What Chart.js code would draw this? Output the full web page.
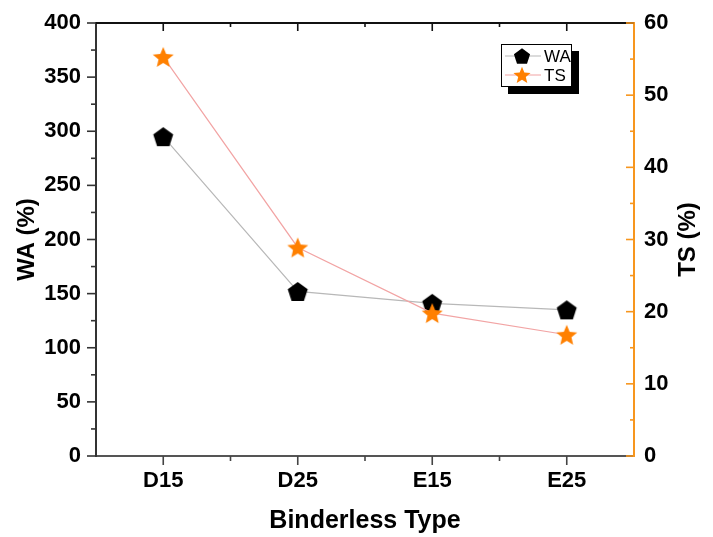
<!DOCTYPE html>
<html>
<head>
<meta charset="utf-8">
<script src="https://cdn.jsdelivr.net/npm/chart.js@4"></script>
<style>
html,body{margin:0;padding:0;background:#fff;}
#c{display:block;}
</style>
</head>
<body>
<canvas id="c" width="713" height="537"></canvas>
<script>
// ---- data ----
const categories = ['D15', 'D25', 'E15', 'E25'];
const waValues = [295, 152, 141, 135];
const tsValues = [55.3, 28.9, 19.8, 16.8];
const waTicks = [0, 50, 100, 150, 200, 250, 300, 350, 400];
const tsTicks = [0, 10, 20, 30, 40, 50, 60];
const seriesNames = ['WA', 'TS'];
const axisTitles = { x: 'Binderless Type', y: 'WA (%)', y1: 'TS (%)' };

const ORANGE = '#ff8000';
const AXIS_ORANGE = '#f7961e';

function pentagonPath(ctx, cx, cy, R) {
  ctx.beginPath();
  for (let i = 0; i < 5; i++) {
    const a = -Math.PI / 2 + i * 2 * Math.PI / 5;
    const x = cx + R * Math.cos(a), y = cy + R * Math.sin(a);
    if (i === 0) ctx.moveTo(x, y); else ctx.lineTo(x, y);
  }
  ctx.closePath();
}
function starPath(ctx, cx, cy, R, r) {
  ctx.beginPath();
  for (let i = 0; i < 10; i++) {
    const a = -Math.PI / 2 + i * Math.PI / 5;
    const rr = i % 2 === 0 ? R : r;
    const x = cx + rr * Math.cos(a), y = cy + rr * Math.sin(a);
    if (i === 0) ctx.moveTo(x, y); else ctx.lineTo(x, y);
  }
  ctx.closePath();
}
function makeMarker(kind, R) {
  const s = Math.ceil(R * 2 + 6);
  const cv = document.createElement('canvas');
  cv.width = s; cv.height = s;
  const g = cv.getContext('2d');
  const cx = s / 2, cy = s / 2 + R * 0.095;
  if (kind === 'pent') {
    pentagonPath(g, cx, cy, R);
    g.fillStyle = '#000'; g.fill();
  } else {
    starPath(g, cx, cy, R, R * 0.45);
    g.fillStyle = ORANGE; g.fill();
  }
  return cv;
}
const pentMarker = makeMarker('pent', 10.5);
const starMarker = makeMarker('star', 11);

const FONT = "'Liberation Sans', Arial, sans-serif";

const decorPlugin = {
  id: 'decor',
  afterDraw(chart) {
    const ctx = chart.ctx;
    const a = chart.chartArea;
    const xs = chart.scales.x, ys = chart.scales.y, y1 = chart.scales.y1;
    ctx.save();
    // top border
    ctx.strokeStyle = '#111';
    ctx.lineWidth = 2;
    ctx.beginPath(); ctx.moveTo(a.left, a.top); ctx.lineTo(a.right, a.top); ctx.stroke();
    ctx.lineWidth = 1.6;
    // x ticks
    const n = categories.length;
    for (let i = 0; i < n; i++) {
      const px = xs.getPixelForValue(i);
      ctx.strokeStyle = '#444';
      ctx.beginPath(); ctx.moveTo(px, a.bottom); ctx.lineTo(px, a.bottom + 9); ctx.stroke();
      ctx.strokeStyle = '#111';
      ctx.beginPath(); ctx.moveTo(px, a.top); ctx.lineTo(px, a.top + 8); ctx.stroke();
      if (i < n - 1) {
        const mx = (px + xs.getPixelForValue(i + 1)) / 2;
        ctx.strokeStyle = '#444';
        ctx.beginPath(); ctx.moveTo(mx, a.bottom); ctx.lineTo(mx, a.bottom + 5); ctx.stroke();
        ctx.strokeStyle = '#111';
        ctx.beginPath(); ctx.moveTo(mx, a.top); ctx.lineTo(mx, a.top + 4); ctx.stroke();
      }
    }
    // left ticks
    ctx.strokeStyle = '#333';
    for (let i = 0; i < waTicks.length; i++) {
      const py = ys.getPixelForValue(waTicks[i]);
      ctx.beginPath(); ctx.moveTo(a.left - 9, py); ctx.lineTo(a.left, py); ctx.stroke();
      if (i < waTicks.length - 1) {
        const my = ys.getPixelForValue((waTicks[i] + waTicks[i + 1]) / 2);
        ctx.beginPath(); ctx.moveTo(a.left - 5, my); ctx.lineTo(a.left, my); ctx.stroke();
      }
    }
    // right ticks (inward)
    ctx.strokeStyle = AXIS_ORANGE;
    for (let i = 0; i < tsTicks.length; i++) {
      const py = y1.getPixelForValue(tsTicks[i]);
      ctx.beginPath(); ctx.moveTo(a.right - 8, py); ctx.lineTo(a.right, py); ctx.stroke();
      if (i < tsTicks.length - 1) {
        const my = y1.getPixelForValue((tsTicks[i] + tsTicks[i + 1]) / 2);
        ctx.beginPath(); ctx.moveTo(a.right - 4, my); ctx.lineTo(a.right, my); ctx.stroke();
      }
    }
    // right axis title (reads bottom to top)
    ctx.save();
    ctx.translate(688, (a.top + a.bottom) / 2);
    ctx.rotate(-Math.PI / 2);
    ctx.fillStyle = '#000';
    ctx.font = 'bold 24px ' + FONT;
    ctx.textAlign = 'center';
    ctx.textBaseline = 'middle';
    ctx.fillText(axisTitles.y1, 0, 0);
    ctx.restore();

    // legend
    const lx = 501, ly = 44, lw = 71, lh = 43;
    ctx.fillStyle = '#000';
    ctx.fillRect(lx + 7, ly + 7, lw, lh);
    ctx.fillStyle = '#fff';
    ctx.fillRect(lx, ly, lw, lh);
    ctx.strokeStyle = '#000'; ctx.lineWidth = 1;
    ctx.strokeRect(lx + 0.5, ly + 0.5, lw - 1, lh - 1);
    const rows = [
      { y: ly + 12, color: chart.data.datasets[0].borderColor, kind: 'pent', label: seriesNames[0] },
      { y: ly + 31, color: chart.data.datasets[1].borderColor, kind: 'star', label: seriesNames[1] }
    ];
    rows.forEach(r => {
      ctx.strokeStyle = r.color; ctx.lineWidth = 1.2;
      ctx.beginPath(); ctx.moveTo(lx + 4, r.y); ctx.lineTo(lx + 40, r.y); ctx.stroke();
      if (r.kind === 'pent') {
        pentagonPath(ctx, lx + 21, r.y + 0.8, 8.5);
        ctx.fillStyle = '#000'; ctx.fill();
      } else {
        starPath(ctx, lx + 21, r.y + 0.8, 9, 4);
        ctx.fillStyle = ORANGE; ctx.fill();
      }
      ctx.fillStyle = '#000';
      ctx.font = '17px ' + FONT;
      ctx.textAlign = 'left';
      ctx.textBaseline = 'middle';
      ctx.fillText(r.label, lx + 43, r.y + 1);
    });
    ctx.restore();
  }
};

new Chart(document.getElementById('c'), {
  type: 'line',
  data: {
    labels: categories,
    datasets: [
      {
        label: seriesNames[0],
        data: waValues,
        yAxisID: 'y',
        order: 1,
        borderColor: '#b8b8b8',
        borderWidth: 1.2,
        pointStyle: pentMarker,
        pointRadius: 10,
        fill: false,
        tension: 0
      },
      {
        label: seriesNames[1],
        data: tsValues,
        yAxisID: 'y1',
        order: 0,
        borderColor: '#f2a4a4',
        borderWidth: 1.2,
        pointStyle: starMarker,
        pointRadius: 10,
        fill: false,
        tension: 0
      }
    ]
  },
  options: {
    responsive: false,
    devicePixelRatio: 1,
    animation: false,
    layout: { padding: { top: 23, left: 0, right: 0, bottom: 0 } },
    plugins: { legend: { display: false }, tooltip: { enabled: false } },
    scales: {
      x: {
        type: 'category',
        offset: true,
        grid: { display: false, drawTicks: false },
        border: { display: true, color: '#555', width: 2 },
        ticks: { color: '#000', font: { family: FONT, size: 22, weight: 'bold' }, padding: 12, maxRotation: 0 },
        title: { display: true, text: axisTitles.x, color: '#000', font: { family: FONT, size: 25, weight: 'bold' }, padding: { top: 0, bottom: 1 } },
        afterFit(s) { s.height = 81; s.paddingLeft = 0; s.paddingRight = 0; }
      },
      y: {
        position: 'left',
        min: 0, max: 400,
        grid: { display: false, drawTicks: false },
        border: { display: true, color: '#333', width: 2 },
        ticks: { stepSize: 50, color: '#000', font: { family: FONT, size: 22, weight: 'bold' }, padding: 15 },
        afterBuildTicks(s) { s.ticks = waTicks.map(v => ({ value: v })); },
        title: { display: true, text: axisTitles.y, color: '#000', font: { family: FONT, size: 24, weight: 'bold' }, padding: { top: 13, bottom: 0 } },
        afterFit(s) { s.width = 96; s.paddingTop = 0; s.paddingBottom = 0; }
      },
      y1: {
        position: 'right',
        min: 0, max: 60,
        grid: { display: false, drawTicks: false },
        border: { display: true, color: AXIS_ORANGE, width: 2 },
        ticks: { stepSize: 10, color: '#000', font: { family: FONT, size: 22, weight: 'bold' }, padding: 10 },
        afterBuildTicks(s) { s.ticks = tsTicks.map(v => ({ value: v })); },
        afterFit(s) { s.width = 79; s.paddingTop = 0; s.paddingBottom = 0; }
      }
    }
  },
  plugins: [decorPlugin]
});
</script>
</body>
</html>
